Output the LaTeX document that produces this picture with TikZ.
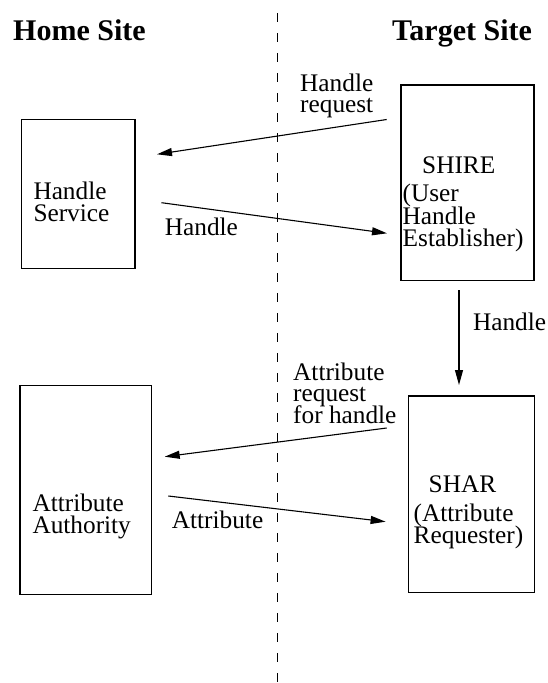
\documentclass[tikz,border=0pt]{standalone}
\usepackage{fontspec}
\setmainfont{Liberation Serif}
\usetikzlibrary{arrows.meta}
\tikzset{
  boxstyle/.style={draw, line width=1.1pt, inner sep=0pt},
  txt/.style={anchor=base west, inner sep=0pt, font=\fontsize{25.3}{21.7}\selectfont},
  ttl/.style={anchor=base west, inner sep=0pt, font=\fontsize{30}{32}\selectfont\bfseries},
  msg/.style={line width=1.1pt, -{Triangle[length=15pt, width=8pt]}},
  divider/.style={line width=1.1pt, dash pattern=on 9pt off 11pt}
}
\begin{document}
\begin{tikzpicture}[x=1pt, y=-1pt]
\useasboundingbox (0,0) rectangle (547,683);
% titles
\node[ttl] (home) at (13,40) {Home Site};
\node[ttl] (target) at (392,40) {Target Site};
% divider
\coordinate (dtop) at (277.5,13.3);
\coordinate (dbot) at (277.5,683);
\draw[divider] (dtop) -- (dbot);
% boxes
\draw[boxstyle] (21.5,119.3) rectangle (135,268.3);
\node[inner sep=0pt] (hs) at (78.25,193.8) {};
\draw[boxstyle] (401,85) rectangle (534,280.7);
\node[inner sep=0pt] (shire) at (467.5,182.85) {};
\draw[boxstyle] (20,385.3) rectangle (151.7,594.3);
\node[inner sep=0pt] (aa) at (85.85,489.8) {};
\draw[boxstyle] (408.2,396) rectangle (534.5,592.3);
\node[inner sep=0pt] (shar) at (471.35,494.15) {};
% box texts
\node[txt] (hs1) at (33.3,199.3) {Handle};
\node[txt] (hs2) at (33.3,221) {Service};
\node[txt] (sh1) at (422,173.3) {SHIRE};
\node[txt] (sh2) at (402.5,201.7) {(User};
\node[txt] (sh3) at (402.5,224) {Handle};
\node[txt] (sh4) at (402.5,246.5) {Establisher)};
\node[txt] (aa1) at (32.3,511.7) {Attribute};
\node[txt] (aa2) at (32.3,533.3) {Authority};
\node[txt] (sr1) at (428.5,492.7) {SHAR};
\node[txt] (sr2) at (413.5,521.7) {(Attribute};
\node[txt] (sr3) at (413.5,543.3) {Requester)};
% message labels
\node[txt] (l1a) at (300,91.7) {Handle};
\node[txt] (l1b) at (300,112.7) {request};
\node[txt] (l2) at (164.7,235) {Handle};
\node[txt] (l3) at (472.8,330) {Handle};
\node[txt] (l4a) at (293,380) {Attribute};
\node[txt] (l4b) at (293,401.7) {request};
\node[txt] (l4c) at (293,423.3) {for handle};
\node[txt] (l5) at (171.7,528.3) {Attribute};
% arrows
\coordinate (a1s) at (386.7,119.5);
\coordinate (a1e) at (157,154.3);
\coordinate (a2s) at (161.5,202.7);
\coordinate (a2e) at (387,233.3);
\coordinate (a3s) at (459,290);
\coordinate (a3e) at (459,385);
\coordinate (a4s) at (386.7,428);
\coordinate (a4e) at (164.7,456.7);
\coordinate (a5s) at (168.3,496);
\coordinate (a5e) at (385.6,521.7);
\draw[msg] (a1s) -- (a1e);
\draw[msg] (a2s) -- (a2e);
\draw[msg] (a3s) -- (a3e);
\draw[msg] (a4s) -- (a4e);
\draw[msg] (a5s) -- (a5e);
\end{tikzpicture}
\end{document}
